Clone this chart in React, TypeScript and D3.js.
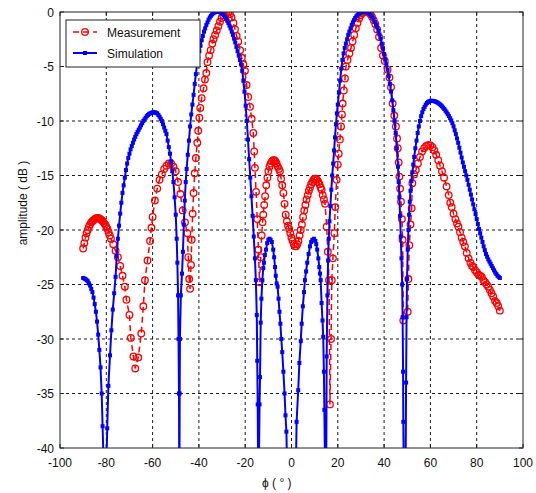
import React from "react";
import * as d3 from "d3";

const xTicks = [-100, -80, -60, -40, -20, 0, 20, 40, 60, 80, 100];
const yTicks = [0, -5, -10, -15, -20, -25, -30, -35, -40];
const seriesNames = ["Measurement", "Simulation"];

const simulation: [number, number][] = [
  [-90,-24.4],[-89.5,-24.45],[-89,-24.5],[-88.5,-24.6],[-88,-24.7],[-87.5,-24.9],[-87,-25.1],[-86.5,-25.4],[-86,-25.7],[-85.5,-26.2],[-85,-26.8],[-84.5,-27.5],[-84,-28.4],[-83.5,-29.6],[-83,-31],[-82.5,-32.6],[-82,-35],[-81.6,-38],[-81.1,-42],
  [-80.2,-44],[-79.6,-38.2],[-79.1,-34.3],[-78.4,-31.5],[-77.8,-29.2],[-77.2,-27.3],[-76.6,-25.8],[-76,-24.3],[-75.5,-22.4],[-75,-20.8],[-74.5,-19.6],[-74,-18.5],[-73.5,-17.5],[-73,-16.6],[-72.5,-15.9],[-72,-15.2],[-71.5,-14.5],[-71,-13.9],[-70.5,-13.4],[-70,-13],[-69.5,-12.6],[-69,-12.3],[-68.5,-12],[-68,-11.7],[-67.5,-11.45],[-67,-11.2],[-66.5,-11],[-66,-10.8],[-65.5,-10.6],[-65,-10.4],[-64.5,-10.2],[-64,-10.0],[-63.5,-9.85],[-63,-9.7],[-62.5,-9.55],[-62,-9.45],[-61.5,-9.35],[-61,-9.3],[-60.5,-9.25],[-60,-9.2],[-59.5,-9.2],[-59,-9.2],[-58.5,-9.25],[-58,-9.3],[-57.5,-9.45],[-57,-9.6],[-56.5,-9.8],[-56,-10.0],[-55.5,-10.3],[-55,-10.6],[-54.5,-10.9],[-54,-11.2],[-53.5,-11.8],[-53,-12.4],[-52.5,-13],[-52,-13.7],[-51.5,-14.6],[-51,-15.6],[-50.5,-17],[-50,-18.6],[-49.6,-20.8],[-49.3,-23],[-49,-26],[-48.8,-30],[-48.6,-35],[-48.5,-42],
  [-48.4,-42],[-48.3,-35],[-48.2,-30],[-47.8,-26],[-47.3,-24],[-46.9,-22],[-46.5,-19.5],[-46.1,-17.3],[-45.7,-15.6],[-45.3,-14.4],[-44.8,-13.1],[-44.3,-11.8],[-43.8,-10.5],[-43.3,-9.4],[-42.8,-8.5],[-42.3,-7.6],[-41.8,-6.6],[-41.3,-5.7],[-40.8,-4.8],[-40.3,-4.2],[-39.8,-3.6],[-39.3,-3.1],[-38.8,-2.6],[-38.3,-2.2],[-37.8,-1.8],[-37.3,-1.5],[-36.8,-1.2],[-36.3,-0.95],[-35.8,-0.7],[-35.3,-0.5],[-34.8,-0.35],[-34.3,-0.22],[-33.8,-0.12],[-33.3,-0.05],[-32.8,0],[-32.3,0],[-31.8,0],[-31.3,0],[-30.8,-0.03],[-30.3,-0.1],[-29.8,-0.2],[-29.3,-0.3],[-28.8,-0.45],[-28.3,-0.6],[-27.8,-0.8],[-27.3,-1.0],[-26.8,-1.25],[-26.3,-1.5],[-25.8,-1.8],[-25.3,-2.1],[-24.8,-2.45],[-24.3,-2.8],[-23.8,-3.2],[-23.3,-3.6],[-22.8,-4.0],[-22.3,-4.4],[-21.8,-4.8],[-21.3,-5.4],[-20.8,-6.3],[-20.3,-7.3],[-19.8,-8.6],[-19.3,-10],[-18.8,-11.7],[-18.3,-13.5],[-17.8,-15.2],[-17.3,-16.9],[-16.8,-18.7],[-16.3,-20.6],[-15.8,-22.6],[-15.4,-24.6],[-15,-27.8],[-14.8,-32],[-14.6,-36],[-14.4,-42],
  [-14.1,-42],[-13.8,-36],[-13.6,-33.5],[-13.3,-28.5],[-13,-26.3],[-12.6,-24.6],[-12.2,-23.5],[-11.9,-23],[-11.5,-22.3],[-11,-21.8],[-10.5,-21.2],[-10,-20.9],[-9.5,-20.8],[-9,-20.9],[-8.5,-21.1],[-7.9,-21.8],[-7.5,-22.5],[-7.1,-23.4],[-6.8,-24.2],[-6.4,-24.9],[-6,-25.2],[-5.6,-26.3],[-5.2,-27.5],[-4.8,-28.6],[-4.4,-30],[-4,-31.2],[-3.5,-33],[-3,-35],[-2.6,-37],[-2.2,-38.5],[-1.9,-42],
  [1.9,-42],[2.2,-37.6],[2.9,-34.7],[3.4,-32.2],[4,-30.2],[4.4,-28.6],[4.9,-27],[5.4,-25.7],[5.8,-24.6],[6.3,-23.8],[6.8,-23],[7.4,-22.2],[8,-21.5],[8.5,-21.1],[9,-20.9],[9.7,-20.8],[10.3,-21],[10.7,-21.3],[11.1,-21.8],[11.6,-22.6],[12,-23.4],[12.3,-24],[12.6,-24.6],[13,-26.7],[13.4,-28.3],[13.7,-29.8],[14,-33],[14.2,-36.5],[14.5,-42],
  [15,-42],[15.2,-31.6],[15.5,-26],[15.8,-22.8],[16.1,-20.8],[16.4,-19.2],[16.8,-17.8],[17.2,-16.3],[17.6,-15],[18,-13.9],[18.4,-12.7],[18.8,-11.5],[19.2,-10.3],[19.6,-9.3],[20,-8.5],[20.5,-7.4],[21,-6.3],[21.5,-5.2],[22,-4.4],[22.5,-3.8],[23,-3.3],[23.5,-2.9],[24,-2.5],[24.5,-2.1],[25,-1.8],[25.5,-1.5],[26,-1.2],[26.5,-0.95],[27,-0.75],[27.5,-0.55],[28,-0.4],[28.5,-0.28],[29,-0.18],[29.5,-0.1],[30,-0.05],[30.5,-0.02],[31,0],[31.5,0],[32,0],[32.5,-0.02],[33,-0.05],[33.5,-0.12],[34,-0.22],[34.5,-0.35],[35,-0.5],[35.5,-0.7],[36,-0.92],[36.5,-1.15],[37,-1.4],[37.5,-1.7],[38,-2.05],[38.5,-2.45],[39,-2.9],[39.5,-3.35],[40,-3.85],[40.5,-4.35],[41,-4.8],[41.5,-5.3],[42,-5.9],[42.5,-6.6],[43,-7.3],[43.5,-8.1],[44,-9],[44.5,-10],[45,-11.1],[45.5,-12.5],[46,-14.2],[46.3,-15.6],[46.6,-17],[46.9,-18.7],[47.2,-20.6],[47.5,-22.6],[47.8,-25],[48,-28],[48.2,-33],[48.3,-37.6],[48.5,-42],
  [49.3,-42],[49.5,-34],[49.7,-28],[49.9,-24.5],[50.2,-21.8],[50.5,-20],[50.8,-18.6],[51.1,-17.4],[51.4,-16.4],[51.8,-15.5],[52.2,-14.7],[52.6,-14],[53,-13.3],[53.5,-12.5],[54,-11.8],[54.5,-11.1],[55,-10.5],[55.5,-10],[56,-9.55],[56.5,-9.2],[57,-8.9],[57.5,-8.7],[58,-8.5],[58.5,-8.35],[59,-8.25],[59.5,-8.2],[60,-8.15],[60.5,-8.15],[61,-8.15],[61.5,-8.17],[62,-8.2],[62.5,-8.25],[63,-8.3],[63.5,-8.37],[64,-8.45],[64.5,-8.55],[65,-8.65],[65.5,-8.77],[66,-8.9],[66.5,-9.05],[67,-9.2],[67.5,-9.37],[68,-9.55],[68.5,-9.75],[69,-9.95],[69.5,-10.2],[70,-10.5],[70.5,-10.85],[71,-11.2],[71.5,-11.6],[72,-12.0],[72.5,-12.45],[73,-12.9],[73.5,-13.35],[74,-13.8],[74.5,-14.2],[75,-14.6],[75.5,-15.0],[76,-15.4],[76.5,-15.85],[77,-16.3],[77.5,-16.75],[78,-17.2],[78.5,-17.65],[79,-18.1],[79.5,-18.55],[80,-19.0],[80.5,-19.45],[81,-19.9],[81.5,-20.3],[82,-20.7],[82.5,-21.1],[83,-21.5],[83.5,-21.85],[84,-22.2],[84.5,-22.45],[85,-22.7],[85.5,-22.9],[86,-23.1],[86.5,-23.3],[87,-23.5],[87.5,-23.7],[88,-23.9],[88.5,-24.05],[89,-24.2],[89.5,-24.3],[90,-24.4]
];

const measurement: [number, number][] = [
  [-90,-21.7],[-89.5,-21.2],[-89,-20.7],[-88.5,-20.3],[-88,-20],[-87.5,-19.7],[-87,-19.5],[-86.5,-19.3],[-86,-19.2],[-85.5,-19.1],[-85,-19],[-84.5,-18.95],[-84,-18.9],[-83.5,-18.9],[-83,-18.95],[-82.5,-19],[-82,-19.1],[-81.5,-19.2],[-81,-19.35],[-80.5,-19.5],[-80,-19.7],[-79.5,-19.9],[-79,-20.2],[-78.5,-20.5],[-78,-20.8],[-77,-21.3],[-76,-21.9],[-75,-22.5],[-74,-23.3],[-73,-24.2],[-72,-25.2],[-71.3,-26.4],[-70,-27.8],[-69.4,-29.9],[-68.3,-31.6],[-67.5,-32.7],[-66.2,-31.7],[-64.9,-29.5],[-64,-27],[-63.3,-24.6],[-62.2,-22.8],[-61.1,-21],
  [-60.5,-19.8],[-60,-18.8],[-59,-17.3],[-58,-16.2],[-57,-15.4],[-56,-14.9],[-55,-14.4],[-54,-14.1],[-53,-13.9],[-52,-13.9],[-51,-14.2],[-50,-14.6],[-49,-15.6],[-48,-16.7],[-47,-18.2],[-46,-19.3],[-45,-20.3],[-44.6,-22.5],[-44.2,-24.5],[-43.8,-25.4],[-43.4,-23.2],[-43.1,-20.9],[-42.7,-18.5],[-42.3,-16.6],[-41.8,-14.8],[-41.3,-13.4],[-40.7,-12],[-40.3,-10.9],[-39.8,-9.7],[-39.4,-8.8],[-38.8,-7.9],[-38,-7],[-37.4,-6.2],[-36.8,-5.6],[-36.3,-4.6],[-35.6,-4],[-34.9,-3.5],[-34.2,-2.9],[-33.7,-2.5],[-33,-2.1],[-32.3,-1.7],[-31.6,-1.3],[-30.9,-0.9],[-30.2,-0.55],[-29.5,-0.3],[-28.8,-0.1],[-28,0],[-27.3,-0.05],[-26.6,-0.2],[-25.9,-0.5],[-25.1,-1],[-24.4,-1.6],[-23.7,-2.2],[-23,-2.7],[-22.2,-3.5],[-21.5,-4.2],[-20.8,-4.8],[-20.1,-5.4],[-19.4,-6.7],[-18.7,-7.8],[-17.9,-8.7],[-17.2,-9.8],[-16.5,-11.1],[-16.1,-12.8],[-15.8,-14.3],[-15.3,-16.5],[-14.8,-19],[-14.3,-21.8],[-13.8,-24.8],[-13.3,-22.5],[-12.9,-20.5],[-12.5,-19.3],[-12.2,-18.6],[-11.8,-17.7],[-11.4,-16.9],[-10.9,-15.9],[-10.4,-15.2],[-10,-14.6],[-9.5,-14.2],[-9,-13.9],[-8.5,-13.7],[-7.9,-13.6],[-7.4,-13.6],[-6.9,-13.7],[-6.4,-13.9],[-5.9,-14.2],[-5.4,-14.4],[-5,-14.6],[-4.5,-15.3],[-4,-15.9],[-3.5,-16.6],[-3,-17.6],[-2.5,-18.6],[-2,-19.2],[-1.5,-19.6],[-1,-19.9],[-0.5,-20.3],[0,-20.7],[0.5,-21],[1,-21.3],[1.5,-21.5],[2,-21.5],[2.5,-21.3],[3,-21],[3.5,-20.5],[4,-20],[4.5,-19.5],[5,-18.8],[5.5,-18.2],[6,-17.7],[6.5,-17.2],[7,-16.8],[7.5,-16.4],[8,-16.1],[8.5,-15.8],[9,-15.6],[9.5,-15.4],[10,-15.3],[10.6,-15.3],[11.1,-15.4],[11.6,-15.6],[12.1,-15.8],[12.6,-16.1],[13,-16.3],[13.5,-16.8],[14,-17.2],[14.5,-17.6],[15.2,-19.7],[15.7,-22],[16.2,-24.6],[16.6,-36],[17.1,-30],[17.4,-24.6],[17.9,-22.6],[18.5,-20.3],[18.9,-17.9],[19.5,-15.4],[20,-14],[20.4,-13],[20.9,-11.7],[21.4,-10.5],[21.8,-9.4],[22.1,-8.4],[22.6,-7.2],[23.1,-6.1],[23.5,-5],[24.2,-4.4],[25,-3.8],[25.7,-3.3],[26.4,-2.7],[27.1,-2.1],[27.8,-1.5],[28.5,-1],[29.2,-0.6],[29.9,-0.3],[30.6,-0.1],[31.3,0],[32,0],[32.7,0],[33.4,-0.05],[34.1,-0.2],[34.8,-0.45],[35.5,-0.75],[36.2,-1.1],[37,-1.6],[37.8,-2.3],[38.7,-3.3],[39.5,-4],[40.3,-4.5],[41.5,-5.3],[42.3,-6],[43,-6.9],[43.7,-8.4],[44.4,-9.5],[45.1,-10.5],[45.6,-11.6],[45.9,-12.5],[46.3,-13.8],[46.6,-15.1],[46.9,-16.2],[47.3,-17.4],[47.7,-19],[48,-20.9],[48.3,-28.3],[50.2,-27.5],[50.5,-24.5],[50.9,-21.4],[51.4,-19.5],[51.9,-18],[52.2,-15.7],[53,-14.9],[53.7,-14.5],[54.6,-13.9],[55.5,-13.3],[56.4,-12.8],[57.3,-12.5],[58.2,-12.3],[59.1,-12.2],[60,-12.25],[60.9,-12.4],[61.7,-12.7],[62.5,-13.1],[63.4,-13.6],[64.2,-14.1],[65,-14.6],[65.9,-15.2],[67,-16],[67.9,-16.8],[68.6,-17.5],[69.2,-17.9],[70,-18.5],[70.8,-19],[71.5,-19.4],[72.1,-19.7],[72.8,-20.2],[73.5,-20.7],[74.2,-21.1],[74.9,-21.5],[75.7,-22.1],[76.5,-22.6],[77.3,-23],[78,-23.3],[78.5,-23.4],[79.3,-23.7],[80.1,-23.9],[80.8,-24.1],[81.5,-24.2],[82.2,-24.3],[82.9,-24.6],[83.6,-24.8],[84.3,-25],[85,-25.2],[85.7,-25.5],[86.4,-25.8],[87.1,-26.1],[87.9,-26.5],[88.6,-26.7],[89.3,-27],[90,-27.4]
];

const W = 536, H = 493;
const L = 60, R = 523, T = 12, B = 448;
const FONT = "'Liberation Sans', Arial, Helvetica, sans-serif";

export default function App() {
  const x = d3.scaleLinear().domain([-100, 100]).range([L, R]);
  const y = d3.scaleLinear().domain([-40, 0]).range([B, T]);
  const line = d3.line<[number, number]>().x(d => x(d[0])).y(d => y(d[1]));
  const axisColor = "#222";
  return (
    <div style={{ position: "fixed", left: 0, top: 0 }}>
      <svg width={W} height={H} style={{ display: "block", background: "#fff" }} fontFamily={FONT}>
        <defs>
          <clipPath id="plotclip"><rect x={L} y={T} width={R - L} height={B - T} /></clipPath>
        </defs>
        <rect x={0} y={0} width={W} height={H} fill="#fff" />
        {/* grid */}
        {xTicks.slice(1, -1).map(t => (
          <line key={"gx" + t} x1={x(t)} x2={x(t)} y1={T} y2={B} stroke="#000" strokeWidth={0.9} strokeDasharray="3,3" />
        ))}
        {yTicks.slice(1, -1).map(t => (
          <line key={"gy" + t} x1={L} x2={R} y1={y(t)} y2={y(t)} stroke="#000" strokeWidth={0.9} strokeDasharray="3,3" />
        ))}
        {/* tick marks */}
        {xTicks.map(t => (
          <g key={"tx" + t}>
            <line x1={x(t)} x2={x(t)} y1={B} y2={B - 4} stroke={axisColor} />
            <line x1={x(t)} x2={x(t)} y1={T} y2={T + 4} stroke={axisColor} />
          </g>
        ))}
        {yTicks.map(t => (
          <g key={"ty" + t}>
            <line x1={L} x2={L + 4} y1={y(t)} y2={y(t)} stroke={axisColor} />
            <line x1={R} x2={R - 4} y1={y(t)} y2={y(t)} stroke={axisColor} />
          </g>
        ))}
        <g clipPath="url(#plotclip)">
          <path d={line(measurement) || ""} fill="none" stroke="#ff0000" strokeWidth={1.5} strokeDasharray="6,4" />
          {measurement.map((d, i) => (
            <circle key={"m" + i} cx={x(d[0])} cy={y(d[1])} r={3.3} fill="none" stroke="#ff0000" strokeWidth={1.3} />
          ))}
          <path d={line(simulation) || ""} fill="none" stroke="#0000ff" strokeWidth={2} />
          {simulation.map((d, i) => (
            <rect key={"s" + i} x={x(d[0]) - 2} y={y(d[1]) - 2} width={4} height={4} fill="#0000ff" />
          ))}
        </g>
        <rect x={L} y={T} width={R - L} height={B - T} fill="none" stroke={axisColor} strokeWidth={1} />
        {/* tick labels */}
        {xTicks.map(t => (
          <text key={"lx" + t} x={x(t)} y={467} fontSize={12} textAnchor="middle" fill="#111">{t}</text>
        ))}
        {yTicks.map(t => (
          <text key={"ly" + t} x={54} y={y(t) + 4.5} fontSize={12} textAnchor="end" fill="#111">{t}</text>
        ))}
        <text transform="translate(27,203) rotate(-90)" fontSize={12} textAnchor="middle" fill="#111">amplitude ( dB )</text>
        <text x={262} y={487} fontSize={12} fill="#111">ϕ ( ° )</text>
        {/* legend */}
        <rect x={66} y={20} width={134} height={47} fill="#fff" stroke={axisColor} strokeWidth={1} />
        <line x1={73} x2={97} y1={32} y2={32} stroke="#ff0000" strokeWidth={1.5} strokeDasharray="6,4" />
        <circle cx={85} cy={32} r={3.3} fill="none" stroke="#ff0000" strokeWidth={1.3} />
        <text x={107} y={36.5} fontSize={12} fill="#111">{seriesNames[0]}</text>
        <line x1={73} x2={97} y1={53} y2={53} stroke="#0000ff" strokeWidth={2} />
        <rect x={83} y={51} width={4} height={4} fill="#0000ff" />
        <text x={107} y={57.5} fontSize={12} fill="#111">{seriesNames[1]}</text>
      </svg>
    </div>
  );
}
